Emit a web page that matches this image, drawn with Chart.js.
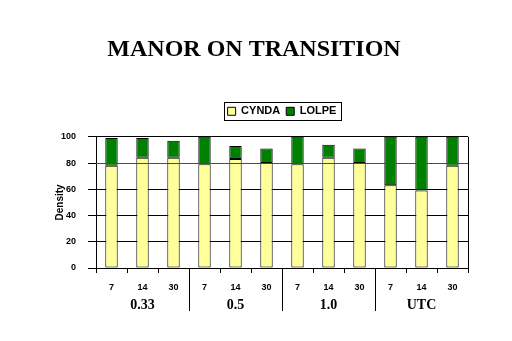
<!DOCTYPE html>
<html>
<head>
<meta charset="utf-8">
<script src="https://cdn.jsdelivr.net/npm/chart.js@4/dist/chart.umd.min.js"></script>
<style>
  html, body { margin: 0; padding: 0; background: #fff; }
  #wrap { width: 512px; height: 341px; }
</style>
</head>
<body>
<div id="wrap"><canvas id="barChart"></canvas></div>
<script>
let days = ['7', '14', '30', '7', '14', '30', '7', '14', '30', '7', '14', '30']
let groups = ['0.33', '0.5', '1.0', 'UTC']
let cynda = [78, 84, 84, 79, 83, 80, 79, 84, 80, 63, 59, 78]
let lolpe = [21, 15, 13, 21, 10, 11, 21, 10, 11, 37, 41, 22]
let refLine = 80

// extra room under the legend, and centre it over the plot
let legendGap = {
    id: 'legendGap',
    beforeInit(chart) {
        let fit = chart.legend.fit
        chart.legend.fit = function () {
            fit.bind(chart.legend)()
            this.height += 10
        }
    },
    afterLayout(chart) {
        chart.legend.left = chart.chartArea.left
        chart.legend.right = chart.chartArea.right
    }
}

// red reference line, right border, group separators, legend frame
let extras = {
    id: 'extras',
    afterDatasetsDraw(chart) {
        let ctx = chart.ctx
        let a = chart.chartArea
        let x = chart.scales.x
        let y = chart.scales.y
        ctx.save()
        ctx.strokeStyle = 'black'
        ctx.lineWidth = 1
        ctx.beginPath()
        ctx.moveTo(a.right + 0.5, a.top)
        ctx.lineTo(a.right + 0.5, a.bottom)
        ctx.stroke()
        let yr = Math.round(y.getPixelForValue(refLine)) + 0.5
        ctx.strokeStyle = '#ff0000'
        ctx.beginPath()
        ctx.moveTo(a.left, yr)
        ctx.lineTo(a.right, yr)
        ctx.stroke()
        ctx.strokeStyle = 'black'
        let step = x.getPixelForValue(1) - x.getPixelForValue(0)
        for (let g = 1; g < groups.length; g++) {
            let px = Math.round(x.getPixelForValue(g * 3) - step / 2) + 0.5
            ctx.beginPath()
            ctx.moveTo(px, a.bottom)
            ctx.lineTo(px, a.bottom + 43)
            ctx.stroke()
        }
        let hb = chart.legend.legendHitBoxes
        let l = Math.min(...hb.map(h => h.left)) - 4
        let r = Math.max(...hb.map(h => h.left + h.width)) + 4
        let t = Math.min(...hb.map(h => h.top)) - 4
        let b = Math.max(...hb.map(h => h.top + h.height)) + 3
        ctx.strokeRect(Math.round(l) + 0.5, Math.round(t) + 0.5, Math.round(r - l), Math.round(b - t))
        ctx.restore()
    }
}

new Chart(document.getElementById('barChart'), {
    type: 'bar',
    data: {
        labels: days,
        datasets: [{
            label: 'CYNDA',
            data: cynda,
            backgroundColor: '#ffff99',
            borderColor: 'black',
            borderWidth: 1,
            borderSkipped: false
        }, {
            label: 'LOLPE',
            data: lolpe,
            backgroundColor: '#008000',
            borderColor: 'black',
            borderWidth: 1,
            borderSkipped: false
        }]
    },
    options: {
        responsive: true,
        maintainAspectRatio: false,
        animation: false,
        datasets: { bar: { categoryPercentage: 1, barPercentage: 0.4 } },
        layout: { padding: { left: 40, right: 44, top: 0, bottom: 0 } },
        scales: {
            x: {
                stacked: true,
                grid: { drawOnChartArea: false, color: 'black', tickLength: 5, offset: true },
                border: { color: 'black' },
                ticks: { color: 'black', font: { family: 'Arial', size: 9, weight: 'bold' }, padding: 9, maxRotation: 0 },
                afterFit: s => { s.height = 24 }
            },
            x2: {
                type: 'category',
                labels: groups,
                position: 'bottom',
                offset: true,
                grid: { display: false },
                border: { display: false },
                ticks: { color: 'black', font: { family: 'Liberation Serif', size: 14, weight: 'bold' }, padding: -3 },
                afterFit: s => { s.height = 49 }
            },
            y: {
                stacked: true,
                min: 0,
                max: 100,
                ticks: { stepSize: 20, color: 'black', font: { family: 'Arial', size: 9, weight: 'bold' }, padding: 12 },
                grid: { color: 'black', tickLength: 8 },
                border: { color: 'black' },
                title: { display: true, text: 'Density', color: 'black', font: { family: 'Arial', size: 10, weight: 'bold' }, padding: { top: 14, bottom: 0 } },
                afterFit: s => { s.width = 56 }
            }
        },
        plugins: {
            title: {
                display: true,
                text: 'MANOR ON TRANSITION',
                color: 'black',
                font: { family: 'Liberation Serif', size: 24, weight: 'bold' },
                padding: { top: 35, bottom: 36 }
            },
            legend: {
                display: true,
                position: 'top',
                labels: {
                    color: 'black',
                    font: { family: 'Arial', size: 11, weight: 'bold' },
                    boxWidth: 8,
                    boxHeight: 8,
                    padding: 6,
                    useBorderRadius: false
                }
            },
            tooltip: { enabled: false }
        }
    },
    plugins: [extras, legendGap]
})
</script>
</body>
</html>
